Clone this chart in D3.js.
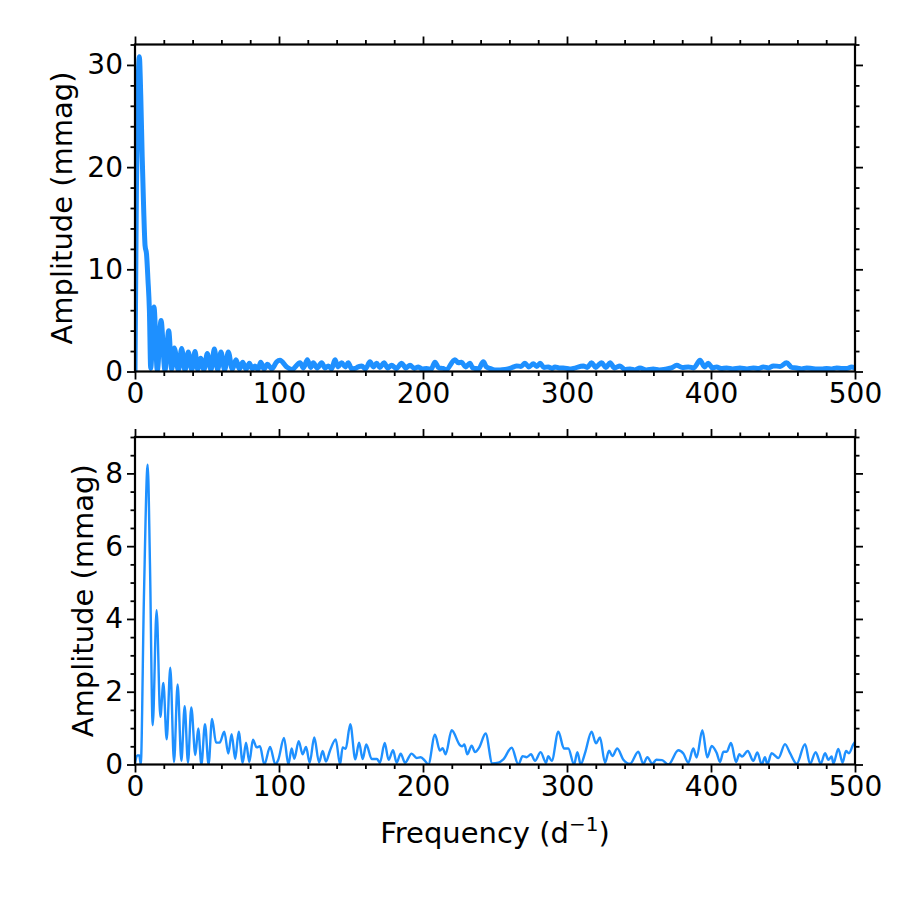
<!DOCTYPE html>
<head>
  <meta charset="utf-8">
  <script src="https://d3js.org/d3.v7.min.js"></script>
  <style>
body { margin: 0; background: #fff; }
text { font-family: "DejaVu Sans", sans-serif; fill: #000; }
.axis path, .axis line { stroke: #000; }
  </style>
</head>
<body>
  <script>
    // top panel: full light curve spectrum (centre of the dense band)
    var topFreq = [0, 1.0, 2.0, 3.0, 4.0, 5.0, 6.0, 7.0, 8.0, 9.0, 10.0, 10.9, 13.2, 15.5, 18.1, 20.8, 23.4, 25.5,
      27.3, 30.1, 32.4, 34.7, 37.0, 39.4, 41.7, 43.5, 45.6, 47.9, 50.2, 52.8, 55.1, 57.4, 59.7, 62.3, 64.8, 67.6,
      70.1, 72.5, 74.8, 77.1, 79.4, 81.5, 83.3, 85.4, 87.3, 89.6, 91.9, 95.1, 98.4,
      100.7, 105.3, 109, 114.6, 117, 119.7, 122, 123.8, 126.5, 129.6, 132, 134.3, 136.5, 138.9, 141, 143.5, 146,
      148.1, 150.5, 152.8, 155, 157.4, 160, 163.2, 165.5, 167.8, 170, 172.9, 175.5, 178.2, 181.5, 185.2, 188, 191,
      194, 196.8, 199.5, 202.5, 205.5, 208.3, 211, 214.1, 216, 222.2, 224.5, 226.9, 229.5, 232.6, 234.5, 236.1,
      238.5, 241.9, 244, 246.5, 250, 253.5, 257, 260.4, 263, 265, 268, 270.8, 273.5, 276.6, 279, 281.3, 284, 287,
      289.5, 291.7, 294.5, 297.5, 302, 304.4, 311.3, 314, 317.1, 320, 322, 324, 327, 329.9, 333, 336.8, 340, 343.8,
      347, 350.7, 355, 359.9, 364, 369.2, 372.5, 376.2, 380, 384.3, 388, 392.4, 395.5, 398.1, 401, 403.9, 407,
      410.9, 415, 420.1, 425, 429.4, 433, 436.3, 440, 443.3, 448, 452.5, 456, 459.5, 463, 466.4, 470, 473.4, 477,
      480.3, 484, 487.3, 491, 494.2, 497.7, 500];
    var topAmp = [0, 18, 27, 30.8, 27, 21, 16, 12.3, 11.5, 9, 6, 0.3, 6.3, 0.1, 5.0, 0.1, 4.0, 0.2,
      2.3, 0.1, 2.25, 0.1, 1.9, 0.15, 1.95, 0.2, 1.3, 0.15, 1.75, 0.15, 2.2, 0.15, 1.9, 0.15, 1.9, 0.2,
      1.15, 0.25, 0.9, 0.2, 0.8, 0.25, 0.55, 0.2, 0.9, 0.25, 0.7, 0.25, 0.95,
      1.1, 0.45, 0.2, 0.85, 0.35, 1.15, 0.4, 0.85, 0.35, 0.85, 0.35, 0.55, 0.25, 1.15, 0.45, 0.85, 0.45,
      0.85, 0.25, 0.3, 0.45, 0.55, 0.25, 0.95, 0.45, 0.8, 0.4, 0.85, 0.35, 0.6, 0.3, 0.8, 0.35, 0.6,
      0.3, 0.45, 0.25, 0.3, 0.2, 0.9, 0.35, 0.3, 0.15, 1.15, 0.85, 0.9, 0.45, 0.8, 0.35, 0.3,
      0.25, 0.95, 0.45, 0.3, 0.15, 0.15, 0.2, 0.3, 0.45, 0.55, 0.5, 0.8, 0.45, 0.75, 0.5, 0.8, 0.4, 0.45,
      0.3, 0.45, 0.35, 0.35, 0.25, 0.3, 0.55, 0.4, 0.85, 0.4, 0.65, 0.85, 0.4, 0.85, 0.35, 0.55, 0.2, 0.25,
      0.15, 0.35, 0.15, 0.25, 0.15, 0.25, 0.35, 0.6, 0.4, 0.45, 0.35, 1.1, 0.45, 0.8, 0.35, 0.45, 0.3,
      0.35, 0.25, 0.35, 0.25, 0.35, 0.3, 0.45, 0.35, 0.55, 0.5, 0.85, 0.4, 0.35, 0.25, 0.35, 0.3, 0.25, 0.25,
      0.3, 0.25, 0.35, 0.3, 0.3, 0.45, 0.35];

    // bottom panel: residual spectrum
    var botFreq = [0, 1.5, 3.0, 4.0, 6.2, 8.8, 10.4, 12.3, 15.0, 17.6, 19.7, 22.0, 24.5, 27.1, 29.6, 32.2, 34.5,
      36.8, 39.1, 41.9, 43.9, 46.1, 48.6, 51.1, 53.5, 56.3, 58.8, 62.0, 64.8, 67.1, 69.6, 72.0, 74.8, 77.1, 79.4,
      81.9, 84.5, 86.8, 89.8, 93.8, 97.5, 99.5, 103.5, 106.5, 108.8, 110.6, 113.7, 116.4, 118.8, 121.3, 124.5,
      127.8, 130.3, 132.6, 135.4, 139.4, 142.4, 144.2, 146.3, 149.5, 153.0, 155.6, 158.1, 160.6, 164.4, 168.0,
      170.1, 173.4, 176.1, 179.2, 181.7, 184.5, 187.5, 192.1, 195.6, 198.4, 201.4, 203.7, 208.3, 211.8, 213.6,
      215.7, 219.9, 225.7, 227.3, 228.7, 230.8, 233.8, 236.1, 239.1, 243.5, 248.1, 252.3, 255.8, 261.6, 266.2,
      269.2, 272.0, 275.0, 277.8, 281.7, 285.4, 287.0, 289.4, 294.0, 297.9, 300.9, 304.9, 307.2, 309.5, 312.5,
      317.1, 320.1, 322.9, 326.4, 329.2, 331.5, 334.9, 339.0, 343.8, 349.5, 353.0, 355.8, 359.3, 362.0, 366.0,
      370.4, 377.3, 380.8, 384.3, 387.7, 390.0, 394.0, 397.4, 400.5, 403.9, 406.3, 408.6, 410.9, 413.9, 417.4,
      419.7, 421.6, 425.5, 429.4, 432.2, 435.2, 437.5, 439.1, 442.1, 446.8, 451.4, 454.9, 459.5, 465.3, 468.8,
      472.7, 476.2, 479.2, 481.5, 483.8, 485.0, 488.4, 491.4, 493.7, 495.8, 498.8, 500];
    var botAmp = [0.03, 0.25, 0.25, 0.0, 4.6, 8.24, 5.5, 1.08, 4.24, 1.31, 2.24, 0.69, 2.66, 0.07, 2.20, 0.1, 1.60,
      0.05, 1.57, 0.26, 0.99, 0.0, 1.11, 0.0, 1.25, 0.6, 0.6, 0.9, 0.3, 0.83, 0.15, 0.9, 0.05, 0.6, 0.07,
      0.68, 0.47, 0.5, 0.0, 0.48, 0.0, 0.13, 0.73, 0.0, 0.44, 0.16, 0.64, 0.28, 0.48, 0.05, 0.74,
      0.06, 0.37, 0.08, 0.38, 0.69, 0.0, 0.47, 0.43, 1.11, 0.14, 0.6, 0.15, 0.55, 0.15, 0.15,
      0.05, 0.59, 0.13, 0.39, 0.05, 0.3, 0.05, 0.3, 0.18, 0.2, 0.1, 0.0, 0.82, 0.38, 0.45,
      0.28, 0.94, 0.53, 0.5, 0.55, 0.28, 0.52, 0.34, 0.47, 0.85, 0.03, 0.05, 0.14, 0.46, 0.0,
      0.23, 0.2, 0.28, 0.1, 0.34, 0.05, 0.23, 0.1, 0.9, 0.44, 0.44, 0.0, 0.34, 0.0, 0.31,
      0.9, 0.58, 0.74, 0.05, 0.38, 0.23, 0.44, 0.14, 0.02, 0.35, 0.02, 0.2, 0.02, 0.13, 0.12,
      0.0, 0.39, 0.3, 0.05, 0.44, 0.19, 0.94, 0.2, 0.51, 0.32, 0.07, 0.35, 0.35, 0.59, 0.07,
      0.28, 0.22, 0.37, 0.1, 0.33, 0.0, 0.2, 0.0, 0.31, 0.18, 0.56, 0.31, 0.02, 0.56, 0.02,
      0.34, 0.02, 0.31, 0.13, 0.22, 0.02, 0.43, 0.05, 0.37, 0.31, 0.55, 0.62];

    var xTicks = [0, 100, 200, 300, 400, 500];
    var topTicks = [0, 10, 20, 30];
    var botTicks = [0, 2, 4, 6, 8];

    var svg = d3.select("body").append("svg")
      .attr("width", 900)
      .attr("height", 900);

    var x = d3.scaleLinear().domain([0, 500]).range([135, 855]);
    var blue = "#1e90ff";

    function panel(y, freq, amp, ticks, minorStep, width, labelX) {
      var g = svg.append("g");
      var y0 = y.range()[0], y1 = y.range()[1];
      var yMax = y.domain()[1];

      g.append("clipPath").attr("id", "clip" + Math.round(y0))
        .append("rect").attr("x", 135).attr("y", y1 - 3).attr("width", 720).attr("height", y0 - y1 + 3);

      var line = d3.line()
        .x(function(d, i) { return x(freq[i]); })
        .y(function(d) { return y(d); })
        .curve(d3.curveMonotoneX);

      g.append("path")
        .datum(amp)
        .attr("clip-path", "url(#clip" + Math.round(y0) + ")")
        .attr("d", line)
        .attr("fill", "none")
        .attr("stroke", blue)
        .attr("stroke-width", width)
        .attr("stroke-linejoin", "round");

      var xMinor = d3.range(0, 501, 20).filter(function(v) { return v % 100 != 0; });
      var yMinor = d3.range(0, yMax + 1e-9, minorStep).filter(function(v) { return ticks.indexOf(v) < 0; });

      // bottom / top x axes
      g.append("g").attr("class", "axis").attr("transform", "translate(0," + y0 + ")")
        .call(d3.axisBottom(x).tickValues(xTicks).tickSize(8).tickPadding(4).tickFormat(d3.format("d")));
      g.append("g").attr("class", "axis").attr("transform", "translate(0," + y0 + ")")
        .call(d3.axisBottom(x).tickValues(xMinor).tickSize(4.5).tickFormat(""));
      g.append("g").attr("class", "axis").attr("transform", "translate(0," + y1 + ")")
        .call(d3.axisTop(x).tickValues(xTicks).tickSize(8).tickFormat(""));
      g.append("g").attr("class", "axis").attr("transform", "translate(0," + y1 + ")")
        .call(d3.axisTop(x).tickValues(xMinor).tickSize(4.5).tickFormat(""));

      // left / right y axes
      g.append("g").attr("class", "axis").attr("transform", "translate(135,0)")
        .call(d3.axisLeft(y).tickValues(ticks).tickSize(8).tickPadding(4).tickFormat(d3.format("d")));
      g.append("g").attr("class", "axis").attr("transform", "translate(135,0)")
        .call(d3.axisLeft(y).tickValues(yMinor).tickSize(4.5).tickFormat(""));
      g.append("g").attr("class", "axis").attr("transform", "translate(855,0)")
        .call(d3.axisRight(y).tickValues(ticks).tickSize(8).tickFormat(""));
      g.append("g").attr("class", "axis").attr("transform", "translate(855,0)")
        .call(d3.axisRight(y).tickValues(yMinor).tickSize(4.5).tickFormat(""));

      g.selectAll(".axis .domain").remove();
      g.selectAll(".axis line").attr("stroke-width", 1.8);
      g.selectAll(".axis text")
        .style("font-size", "28px")
        .style("font-family", "'DejaVu Sans', sans-serif");

      g.append("rect")
        .attr("x", 135).attr("y", y1).attr("width", 720).attr("height", y0 - y1)
        .attr("fill", "none").attr("stroke", "#000").attr("stroke-width", 2.2);

      g.append("text")
        .attr("transform", "translate(" + labelX + "," + ((y0 + y1) / 2) + ") rotate(-90)")
        .attr("text-anchor", "middle")
        .attr("dy", "0.35em")
        .style("font-size", "29px")
        .text("Amplitude (mmag)");
    }

    panel(d3.scaleLinear().domain([0, 32]).range([371.5, 44.5]), topFreq, topAmp, topTicks, 2, 5, 62);
    panel(d3.scaleLinear().domain([0, 9]).range([764.5, 437]), botFreq, botAmp, botTicks, 0.5, 2.4, 83);

    var xl = svg.append("text")
      .attr("x", 495).attr("y", 843)
      .attr("text-anchor", "middle")
      .style("font-size", "29px");
    xl.append("tspan").text("Frequency (d");
    xl.append("tspan").attr("dy", -12).style("font-size", "20px").text("\u22121");
    xl.append("tspan").attr("dy", 12).text(")");
  </script>
</body>
